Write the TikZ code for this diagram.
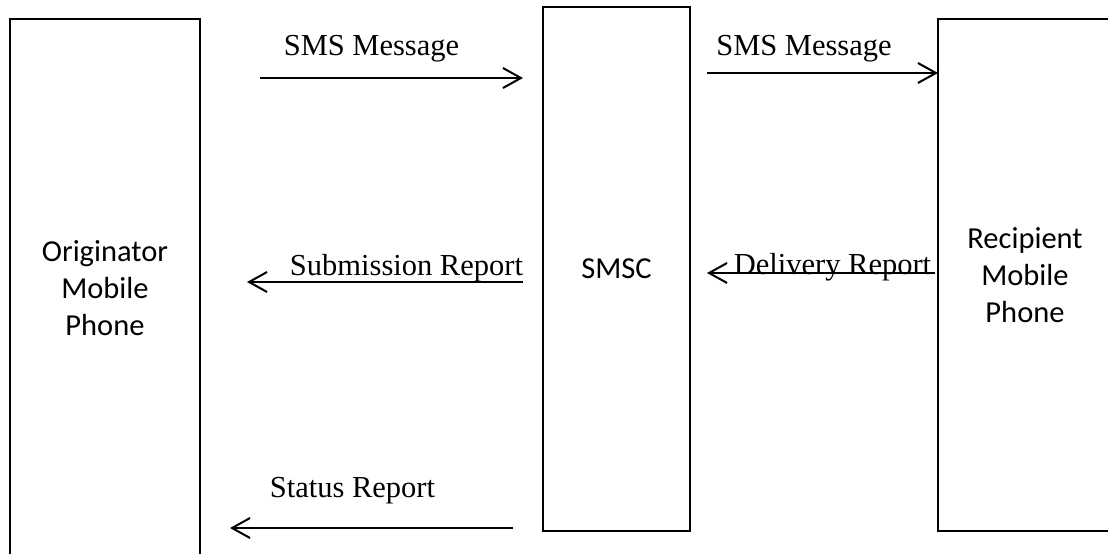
\documentclass[tikz,border=0pt]{standalone}
\usepackage{fontspec}
\setmainfont{Liberation Serif}
\newfontfamily\calibri{Carlito}
\usetikzlibrary{arrows.meta}

\begin{document}
\begin{tikzpicture}
    [
        x=1pt, y=-1pt,
        box/.style = {draw, shape=rectangle, line width=2pt, inner sep=0pt, align=center, font=\calibri\fontsize{30.5}{37}\selectfont},
        msg/.style = {anchor=base, inner sep=0pt, font=\fontsize{30.5}{36}\selectfont},
        flow/.style = {line width=2pt, -{Straight Barb[length=18pt, width=20pt, line width=2pt]}},
    ]

    \useasboundingbox (0,0) rectangle (1108,554);

    \node[box, minimum width=190pt, minimum height=538pt] (orig) at (105,288)     {Originator\\Mobile\\Phone};
    \node[box, minimum width=147pt, minimum height=524pt] (smsc) at (616.5,269)   {SMSC};
    \node[box, minimum width=174pt, minimum height=512pt] (recip) at (1025,275)   {Recipient\\Mobile\\Phone};

    \coordinate (m1a) at (260,78);   \coordinate (m1b) at (523,78);
    \coordinate (m2a) at (707,73);   \coordinate (m2b) at (938,73);
    \coordinate (s1a) at (523,282);  \coordinate (s1b) at (247,282);
    \coordinate (d1a) at (935,273);  \coordinate (d1b) at (707,273);
    \coordinate (r1a) at (513,528);  \coordinate (r1b) at (230,528);

    \draw[flow] (m1a) -- (m1b);
    \draw[flow] (m2a) -- (m2b);
    \draw[flow] (s1a) -- (s1b);
    \draw[flow] (d1a) -- (d1b);
    \draw[flow] (r1a) -- (r1b);

    \node[msg] (m1) at (371.5,55)  {SMS Message};
    \node[msg] (m2) at (804,55)    {SMS Message};
    \node[msg] (s1) at (406.5,275) {Submission Report};
    \node[msg] (d1) at (832.5,274) {Delivery Report};
    \node[msg] (r1) at (352.5,497) {Status Report};
\end{tikzpicture}
\end{document}
